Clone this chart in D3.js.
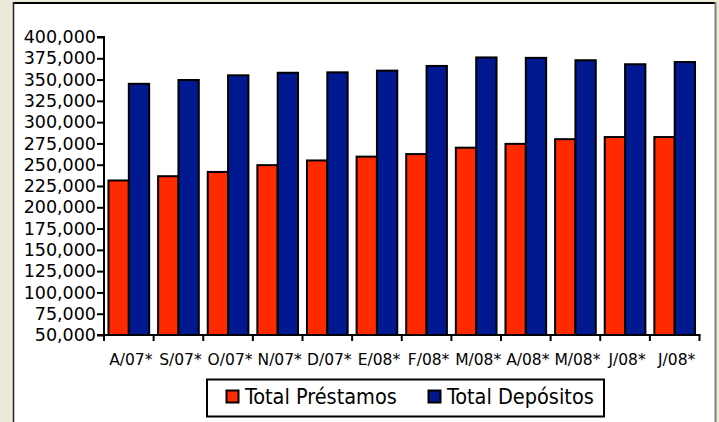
<!DOCTYPE html>
<html><head><meta charset="utf-8">
<script src="https://cdn.jsdelivr.net/npm/d3@7"></script>
<style>
html,body{margin:0;padding:0;background:#ece9d8;}
svg{display:block;}
</style></head>
<body>
<svg id="c" width="719" height="422"></svg>
<script>
const categories = ["A/07*","S/07*","O/07*","N/07*","D/07*","E/08*","F/08*","M/08*","A/08*","M/08*","J/08*","J/08*"];
const seriesNames = ["Total Préstamos","Total Depósitos"];
const prestamos = [231500, 236500, 241500, 249500, 255000, 259500, 262500, 270000, 274500, 280000, 282500, 282500];
const depositos = [345000, 349500, 355000, 358000, 358500, 360500, 366000, 376000, 375500, 372700, 368000, 370600];
const yTicks = [50000,75000,100000,125000,150000,175000,200000,225000,250000,275000,300000,325000,350000,375000,400000];
const colors = ["#ff2a00","#001890"];

const svg = d3.select("#c");
// panel
svg.append("rect").attr("x",0).attr("y",0).attr("width",719).attr("height",422).attr("fill","#ece9d8");
svg.append("rect").attr("x",13).attr("y",2).attr("width",702).attr("height",420).attr("fill","#ffffff");
svg.append("line").attr("x1",13).attr("x2",716).attr("y1",3).attr("y2",3).attr("stroke","#000").attr("stroke-width",2);
svg.append("line").attr("x1",13.5).attr("x2",13.5).attr("y1",2).attr("y2",422).attr("stroke","#222").attr("stroke-width",1.5);
svg.append("line").attr("x1",715.5).attr("x2",715.5).attr("y1",2).attr("y2",422).attr("stroke","#808080").attr("stroke-width",2);

const x0 = 104, x1 = 699.5, yTop = 37, yBot = 335;
const x = d3.scaleBand().domain(d3.range(categories.length)).range([x0, x1]).paddingInner(0).paddingOuter(0);
const xs = d3.scaleBand().domain([0,1]).range([0, x.bandwidth()]).paddingInner(0).paddingOuter(0.22);
const y = d3.scaleLinear().domain([50000, 400000]).range([yBot, yTop]);

const data = categories.map((c,i)=>({i, vals:[prestamos[i], depositos[i]]}));
const g = svg.append("g");
data.forEach(d=>{
  d.vals.forEach((v,s)=>{
    g.append("rect")
      .attr("x", x(d.i)+xs(s))
      .attr("y", y(v))
      .attr("width", xs.bandwidth())
      .attr("height", yBot - y(v))
      .attr("fill", colors[s])
      .attr("stroke","#000").attr("stroke-width",2);
  });
});

// y axis
const ya = svg.append("g").attr("transform",`translate(${x0},0)`)
  .call(d3.axisLeft(y).tickValues(yTicks).tickSize(7).tickPadding(1).tickFormat(d3.format(",")));
ya.select(".domain").attr("stroke","#000").attr("stroke-width",2).attr("d",`M-7,${yTop}H0V${yBot}H-7`);
ya.selectAll(".tick line").attr("stroke","#000").attr("stroke-width",2);
ya.selectAll("text").attr("font-family","DejaVu Sans").attr("font-size",17.5).attr("fill","#000");

// x axis
const xa = svg.append("g");
xa.append("line").attr("x1",x0-1).attr("x2",x1+1).attr("y1",yBot).attr("y2",yBot).attr("stroke","#000").attr("stroke-width",2);
const bounds = d3.range(categories.length+1).map(i=> i<categories.length ? x(i) : x(i-1)+x.bandwidth());
bounds.forEach(b=>{
  xa.append("line").attr("x1",b).attr("x2",b).attr("y1",yBot).attr("y2",yBot+6).attr("stroke","#000").attr("stroke-width",2);
});
categories.forEach((c,i)=>{
  xa.append("text").attr("x", x(i)+x.bandwidth()/2+2).attr("y", 365)
    .attr("text-anchor","middle").attr("font-family","DejaVu Sans").attr("font-size",15.5)
    .attr("fill","#000").text(c);
});

// legend
const lg = svg.append("g");
lg.append("rect").attr("x",207).attr("y",379.5).attr("width",397).attr("height",37).attr("fill","#fff").attr("stroke","#000").attr("stroke-width",2);
const legX = [226, 428];
seriesNames.forEach((n,s)=>{
  lg.append("rect").attr("x",legX[s]+0.5).attr("y",390.5).attr("width",12).attr("height",12).attr("fill",colors[s]).attr("stroke","#000").attr("stroke-width",2);
  lg.append("text").attr("x",legX[s]+19).attr("y",404).attr("font-family","DejaVu Sans Condensed, DejaVu Sans").attr("font-stretch","condensed")
    .attr("font-size",21.5).attr("fill","#000").text(n);
});
</script>
</body></html>
